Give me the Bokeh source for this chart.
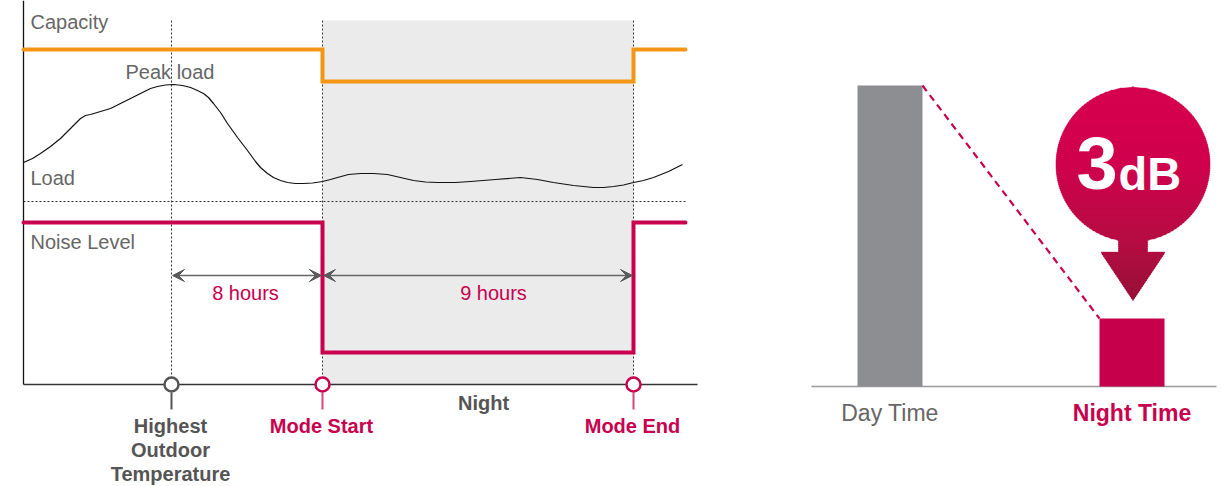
import numpy as np
from bokeh.plotting import figure
from bokeh.models import Range1d, Arrow, VeeHead
from bokeh.core.properties import value
from bokeh.embed import file_html
from bokeh.resources import INLINE

# ---------------- data (schematic diagram units) ----------------
# left diagram: time events along the schematic time axis
event_labels = [["Highest", "Outdoor", "Temperature"], ["Mode Start"], ["Mode End"]]
event_x = [171, 322, 633]
diagram_start = 23
diagram_end = 685
capacity_levels = [49, 81]      # day level, night level (downward axis)
noise_levels = [222, 352]       # day level, night level (downward axis)

load_x = [23, 32, 40, 50, 60, 70, 80, 85, 90, 100, 110, 120, 130, 140, 150, 157, 165,
          173, 182, 190, 197, 203, 208, 213, 220, 227, 237, 247, 255, 260, 267, 273,
          280, 287, 295, 303, 312, 322, 330, 337, 348, 360, 373, 387, 400, 413, 425,
          437, 455, 470, 495, 520, 537, 553, 573, 593, 603, 613, 623, 633, 643, 653,
          668, 682]
load_y = [162, 158, 153, 146, 138, 128, 118, 115, 114, 111, 108, 103, 98, 93, 88, 86,
          84.5, 84, 85, 87, 90, 93, 97, 103, 112, 123, 137, 150, 161, 167, 173, 177,
          180, 182, 183, 183, 182.5, 181, 179, 177, 174, 173, 173, 174, 177, 180, 181.5,
          182, 182, 181, 179, 177, 179, 182, 185, 187, 187, 186, 184.5, 182, 180, 177,
          171, 164]

interval_labels = ["8 hours", "9 hours"]
interval_label_x = [245, 493]

# right chart: noise level bars
bar_labels = ["Day Time", "Night Time"]
bar_x = [889.5, 1131.5]
bar_top = [85, 318]
bar_base = 386
reduction_value = "3"
reduction_unit = "dB"

# ---------------- styles ----------------
FONT = value("Liberation Sans")
ORANGE = "#F39614"
MAGENTA = "#C8004E"
GRAY_TXT = "#666666"
DARK_TXT = "#555555"


def bl(y, size):
    """visual baseline -> y for the text glyph (compensates renderer offset)"""
    return y - 0.39 * size


p = figure(width=1221, height=486, x_range=Range1d(0, 1221), y_range=Range1d(486, 0),
           output_backend="svg", toolbar_location=None, min_border=0,
           x_axis_location=None, y_axis_location=None)
p.grid.visible = False
p.outline_line_color = None
p.background_fill_color = "white"

ms, me = event_x[1], event_x[2]

# night shading
p.quad(left=ms, right=me, top=20, bottom=384, fill_color="#EBEBEB", line_color=None)

# dotted guides
p.segment(x0=event_x, y0=[20] * 3, x1=event_x, y1=[378] * 3,
          line_color="#333333", line_width=1, line_dash="2 2")
p.segment(x0=[diagram_start], y0=[201], x1=[687], y1=[201],
          line_color="#333333", line_width=1, line_dash="2 2")

# axes of the diagram
p.segment(x0=[diagram_start], y0=[0], x1=[diagram_start], y1=[384], line_color="#111111", line_width=1.3)
p.segment(x0=[diagram_start], y0=[384], x1=[697], y1=[384], line_color="#333333", line_width=1.5)

# capacity step line
cap_x = [diagram_start, ms, ms, me, me, diagram_end]
cap_y = [capacity_levels[0], capacity_levels[0], capacity_levels[1], capacity_levels[1],
         capacity_levels[0], capacity_levels[0]]
p.line(cap_x, cap_y, line_color=ORANGE, line_width=4, line_join="miter", line_cap="round")

# noise level step line
noi_y = [noise_levels[0], noise_levels[0], noise_levels[1], noise_levels[1],
         noise_levels[0], noise_levels[0]]
p.line(cap_x, noi_y, line_color=MAGENTA, line_width=4, line_join="miter", line_cap="round")

# load curve
p.line(load_x, load_y, line_color="#111111", line_width=1.2, line_join="round")

# labels of the diagram
p.text(x=[30, 125, 30, 30], y=[bl(v, 20) for v in [29, 79, 185, 249]],
       text=["Capacity", "Peak load", "Load", "Noise Level"],
       text_font=FONT, text_font_size="20px", text_color=GRAY_TXT,
       text_align="left", text_baseline="alphabetic")

# interval arrows
for xs, xe in [(event_x[0], event_x[1]), (event_x[1], event_x[2])]:
    p.add_layout(Arrow(start=VeeHead(size=12, fill_color="#5A5A5A", line_color="#5A5A5A", line_width=1),
                       end=VeeHead(size=12, fill_color="#5A5A5A", line_color="#5A5A5A", line_width=1),
                       x_start=xs + 1, y_start=275, x_end=xe - 1, y_end=275,
                       line_color="#666666", line_width=1.5))
p.text(x=interval_label_x, y=[bl(300, 20)] * 2, text=interval_labels,
       text_font=FONT, text_font_size="20px", text_color=MAGENTA,
       text_align="center", text_baseline="alphabetic")

# event markers on the time axis
ev_colors = ["#555555", MAGENTA, MAGENTA]
stem_colors = ["#555555", "#D6477A", "#D6477A"]
p.segment(x0=event_x, y0=[392] * 3, x1=event_x, y1=[409] * 3, line_color=stem_colors, line_width=2)
p.scatter(x=event_x, y=[384] * 3, size=14, marker="circle", fill_color="white",
          line_color=ev_colors, line_width=2.5)

lab_x, lab_y, lab_t, lab_c = [], [], [], []
for i, lines in enumerate(event_labels):
    for j, t in enumerate(lines):
        lab_x.append(event_x[i] - 1)
        lab_y.append(bl(433 + 24 * j, 20))
        lab_t.append(t)
        lab_c.append(DARK_TXT if i == 0 else MAGENTA)
p.text(x=lab_x, y=lab_y, text=lab_t, text_color=lab_c, text_font=FONT,
       text_font_size="20px", text_font_style="bold", text_align="center",
       text_baseline="alphabetic")
p.text(x=[483], y=[bl(410, 20)], text=["Night"], text_color=DARK_TXT, text_font=FONT,
       text_font_size="20px", text_font_style="bold", text_align="center",
       text_baseline="alphabetic")

# ---------------- right chart ----------------
BAR_W = 65
p.segment(x0=[811], y0=[bar_base], x1=[1216], y1=[bar_base], line_color="#9A9A9A", line_width=1.5)
p.vbar(x=bar_x, top=bar_top, bottom=bar_base, width=BAR_W,
       fill_color=["#8D8E91", "#C6004B"], line_color=None)
p.segment(x0=[bar_x[0] + BAR_W / 2], y0=[bar_top[0]], x1=[bar_x[1] - BAR_W / 2], y1=[bar_top[1]],
          line_color=MAGENTA, line_width=2.2, line_dash="7 5")
p.text(x=bar_x, y=[bl(421, 23)] * 2, text=bar_labels, text_color=[GRAY_TXT, MAGENTA],
       text_font=FONT, text_font_size="23px", text_font_style=["normal", "bold"],
       text_align="center", text_baseline="alphabetic")

# gradient badge (circle + down arrow), drawn as thin horizontal bands
cx, cy, r = 1132.5, 164.0, 77.0
stem_hw, stem_y0, stem_y1 = 14.5, 236.0, 253.0
tri_hw, tri_y0, tri_y1 = 32.0, 252.0, 300.0


def half_width(y):
    hw = np.sqrt(np.maximum(r * r - (y - cy) ** 2, 0.0))
    hw = np.where((y >= stem_y0) & (y <= stem_y1), np.maximum(hw, stem_hw), hw)
    tri = tri_hw * (tri_y1 - y) / (tri_y1 - tri_y0)
    hw = np.where((y >= tri_y0) & (y <= tri_y1), np.maximum(hw, tri), hw)
    return hw


stops_y = [86, 160, 240, 300]
stops_c = [(214, 0, 80), (210, 2, 78), (183, 13, 68), (152, 17, 56)]


def color_at(y):
    rr = np.interp(y, stops_y, [c[0] for c in stops_c])
    gg = np.interp(y, stops_y, [c[1] for c in stops_c])
    bb = np.interp(y, stops_y, [c[2] for c in stops_c])
    return "#%02x%02x%02x" % (int(rr), int(gg), int(bb))


edges = np.arange(86, 302, 2.0)
b_xs, b_ys, b_cs = [], [], []
for y0, y1 in zip(edges[:-1], edges[1:]):
    ev = np.linspace(y0 + 0.01, y1 - 0.01, 4)
    yy = np.linspace(y0 - 0.4, y1 + 0.4, 4)
    hw = half_width(ev)
    b_xs.append(list(cx - hw) + list((cx + hw)[::-1]))
    b_ys.append(list(yy) + list(yy[::-1]))
    b_cs.append(color_at((y0 + y1) / 2))
p.patches(b_xs, b_ys, fill_color=b_cs, line_color=b_cs, line_width=0.4)

p.text(x=[1076], y=[bl(191, 74)], text=[reduction_value], text_color="white", text_font=FONT,
       text_font_size="74px", text_font_style="bold", text_align="left", text_baseline="alphabetic")
p.text(x=[1118], y=[bl(191, 47)], text=[reduction_unit], text_color="white", text_font=FONT,
       text_font_size="47px", text_font_style="bold", text_align="left", text_baseline="alphabetic")

open("out.html", "w").write(file_html(p, INLINE))
